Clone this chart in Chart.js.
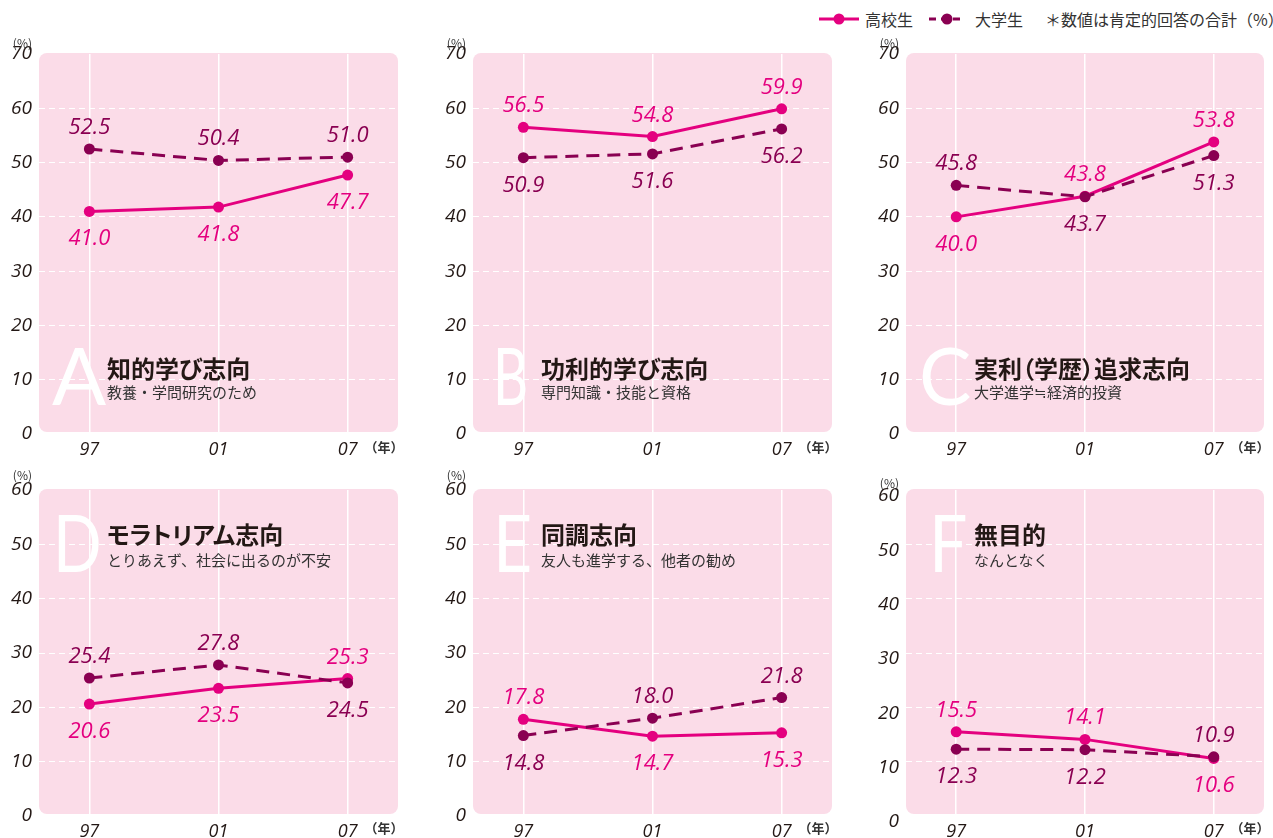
<!DOCTYPE html>
<html><head><meta charset="utf-8">
<script src="https://cdn.jsdelivr.net/npm/chart.js@4.4.1/dist/chart.umd.min.js"></script>
<style>
html,body{margin:0;padding:0;background:#fff;}
#wrap{position:relative;width:1273px;height:838px;overflow:hidden;font-family:"Noto Sans CJK JP","Noto Sans",sans-serif;}
canvas{position:absolute;}
.letter{position:absolute;color:#fff;font-family:Lato,"Open Sans",sans-serif;font-weight:400;font-size:80px;line-height:80px;white-space:nowrap;transform-origin:0 0;}
.title{position:absolute;color:#231815;font-weight:700;font-size:24px;line-height:24px;white-space:nowrap;font-feature-settings:"palt";}
.sub{position:absolute;color:#333;font-size:15px;line-height:15px;white-space:nowrap;}
.unit{position:absolute;color:#333;font-size:12px;line-height:12px;white-space:nowrap;}
.year{position:absolute;color:#333;font-size:13px;line-height:13px;font-weight:700;white-space:nowrap;}
#legend{position:absolute;left:819px;top:9px;height:20px;display:flex;align-items:center;font-size:16px;color:#333;white-space:nowrap;}
</style>
</head><body>
<div id="wrap">
  <div id="legend">
    <svg width="40" height="20"><line x1="0" y1="10" x2="40" y2="10" stroke="#e4007f" stroke-width="3"/><circle cx="20" cy="10" r="5.5" fill="#e4007f"/></svg>
    <span id="lg1" style="margin-left:6px"></span>
    <svg style="margin-left:16px" width="36" height="20"><line x1="0" y1="10" x2="36" y2="10" stroke="#8a0052" stroke-width="3" stroke-dasharray="7,5"/><circle cx="18" cy="10" r="5.5" fill="#8a0052"/></svg>
    <span id="lg2" style="margin-left:10px"></span>
    <span style="margin-left:22px">＊数値は肯定的回答の合計（%）</span>
  </div>
</div>
<script>
// ---- data ----
const years = ['97', '01', '07'];
const seriesNames = ['高校生', '大学生'];
const hsA = [41.0, 41.8, 47.7], univA = [52.5, 50.4, 51.0];
const hsB = [56.5, 54.8, 59.9], univB = [50.9, 51.6, 56.2];
const hsC = [40.0, 43.8, 53.8], univC = [45.8, 43.7, 51.3];
const hsD = [20.6, 23.5, 25.3], univD = [25.4, 27.8, 24.5];
const hsE = [17.8, 14.7, 15.3], univE = [14.8, 18.0, 21.8];
const hsF = [15.5, 14.1, 10.6], univF = [12.3, 12.2, 10.9];
const letters = ['A', 'B', 'C', 'D', 'E', 'F'];
const titles = ['知的学び志向', '功利的学び志向', '実利（学歴）追求志向', 'モラトリアム志向', '同調志向', '無目的'];
const subtitles = ['教養・学問研究のため', '専門知識・技能と資格', '大学進学≒経済的投資', 'とりあえず、社会に出るのが不安', '友人も進学する、他者の勧め', 'なんとなく'];
const yMaxTop = 70, yMaxBottom = 60, yStep = 10;

// ---- style / layout ----
const PINK = '#e4007f', DARK = '#8a0052', BG = '#fbdce8', TXT = '#231815';
const NUMFONT = '"Open Sans", "Noto Sans", sans-serif';
const cols = [{x0:0,w:430,L:39,R:398},{x0:430,w:435,L:473,R:832},{x0:865,w:408,L:906,R:1264}];
const rows = [{y0:30,h:432,T:54,B:434,max:yMaxTop},{y0:462,h:376,T:490,B:816,max:yMaxBottom}];
const letterDx = [13, 20, 13, 14, 20, 23];
const letterSx = [1, 0.68, 0.98, 0.8, 0.85, 0.85];
const pctDy = [-11, -11, -11, -15, -15, -7];
const tickShift = [0, 0, 0, 0, 0, 6];

document.getElementById('lg1').textContent = seriesNames[0];
document.getElementById('lg2').textContent = seriesNames[1];

const bgPlugin = {
  id: 'bg',
  beforeDraw(chart) {
    const {left, top, right, bottom} = chart.chartArea;
    const ctx = chart.ctx;
    ctx.save();
    ctx.fillStyle = BG;
    ctx.beginPath();
    ctx.roundRect(left, top - 1, right - left, bottom - top - 1, 8);
    ctx.fill();
    ctx.restore();
  }
};
const valueLabels = {
  id: 'valueLabels',
  afterDatasetsDraw(chart) {
    const ctx = chart.ctx;
    ctx.save();
    ctx.font = 'italic 22px ' + NUMFONT;
    ctx.textAlign = 'center';
    ctx.textBaseline = 'alphabetic';
    chart.data.datasets.forEach((ds, d) => {
      const other = chart.data.datasets[1 - d];
      chart.getDatasetMeta(d).data.forEach((pt, i) => {
        const v = ds.data[i].y, o = other.data[i].y;
        ctx.fillStyle = ds.borderColor;
        ctx.fillText(v.toFixed(1), pt.x, v > o ? pt.y - 15 : pt.y + 34);
      });
    });
    ctx.restore();
  }
};

const panels = [
  [hsA, univA], [hsB, univB], [hsC, univC],
  [hsD, univD], [hsE, univE], [hsF, univF]
];
const wrap = document.getElementById('wrap');

function addDiv(cls, text, left, top, extra) {
  const d = document.createElement('div');
  d.className = cls;
  d.textContent = text;
  d.style.left = left + 'px';
  d.style.top = top + 'px';
  if (extra) Object.assign(d.style, extra);
  wrap.appendChild(d);
  return d;
}

panels.forEach(([hs, univ], k) => {
  const c = cols[k % 3], r = rows[Math.floor(k / 3)];
  const cv = document.createElement('canvas');
  cv.width = c.w; cv.height = r.h;
  cv.style.left = c.x0 + 'px'; cv.style.top = r.y0 + 'px';
  cv.style.width = c.w + 'px'; cv.style.height = r.h + 'px';
  wrap.appendChild(cv);

  new Chart(cv, {
    type: 'line',
    data: {
      datasets: [
        { label: seriesNames[0], data: hs.map((v, i) => ({x: i, y: v})), order: 1,
          borderColor: PINK, backgroundColor: PINK, borderWidth: 3, pointRadius: 5.5,
          pointBackgroundColor: PINK, pointBorderWidth: 0, tension: 0, fill: false },
        { label: seriesNames[1], data: univ.map((v, i) => ({x: i, y: v})), order: 0,
          borderColor: DARK, backgroundColor: DARK, borderWidth: 3, borderDash: [13, 8], pointRadius: 5.5,
          pointBackgroundColor: DARK, pointBorderWidth: 0, tension: 0, fill: false }
      ]
    },
    options: {
      responsive: false, animation: false, events: [], devicePixelRatio: 1,
      layout: { padding: { left: 0, top: r.T - r.y0, right: c.x0 + c.w - c.R, bottom: 0 } },
      plugins: { legend: { display: false }, tooltip: { enabled: false } },
      scales: {
        x: {
          type: 'linear', min: -0.39, max: 2.39,
          afterBuildTicks: s => { s.ticks = years.map((_, i) => ({value: i})); },
          afterFit: s => { s.height = r.y0 + r.h - r.B; },
          ticks: { callback: v => years[v], font: {family: NUMFONT, size: 18, style: 'italic'}, color: TXT,
                   padding: 5, maxRotation: 0, autoSkip: false },
          grid: { color: '#ffffff', lineWidth: 1.5, drawTicks: false },
          border: { display: false }
        },
        y: {
          min: 0, max: r.max,
          afterFit: s => { s.width = c.L - c.x0; },
          ticks: { stepSize: yStep, font: {family: NUMFONT, size: 19, style: 'italic'}, color: TXT,
                   padding: 7, labelOffset: tickShift[k] },
          grid: { color: ctx => (ctx.tick && (ctx.tick.value === 0 || ctx.tick.value === r.max)) ? 'rgba(0,0,0,0)' : '#ffffff',
                  lineWidth: 1, drawTicks: false },
          border: { display: false, dash: [6, 4] }
        }
      }
    },
    plugins: [bgPlugin, valueLabels]
  });

  // overlays
  const top = Math.floor(k / 3) === 0;
  const letterBase = top ? r.B - 29 : r.T + 82;
  addDiv('letter', letters[k], c.L + letterDx[k], letterBase - 71, {transform: 'scaleX(' + letterSx[k] + ')'});
  const tc = top ? r.B - 65 : r.T + 45;
  const sc = top ? r.B - 42 : r.T + 70;
  addDiv('title', titles[k], c.L + 68, tc - 13);
  addDiv('sub', subtitles[k], c.L + 68, sc - 8);
  const u = addDiv('unit', '(%)', 0, r.T + pctDy[k] - 6, {width: '30px', textAlign: 'right'});
  u.style.left = (c.L - 37) + 'px';
  const yr = addDiv('year', '（年）', 0, (top ? 447 : 828) - 7, {width: '40px', textAlign: 'center'});
  yr.style.left = (c.R - 14 - 20) + 'px';
});
</script>
</body></html>
